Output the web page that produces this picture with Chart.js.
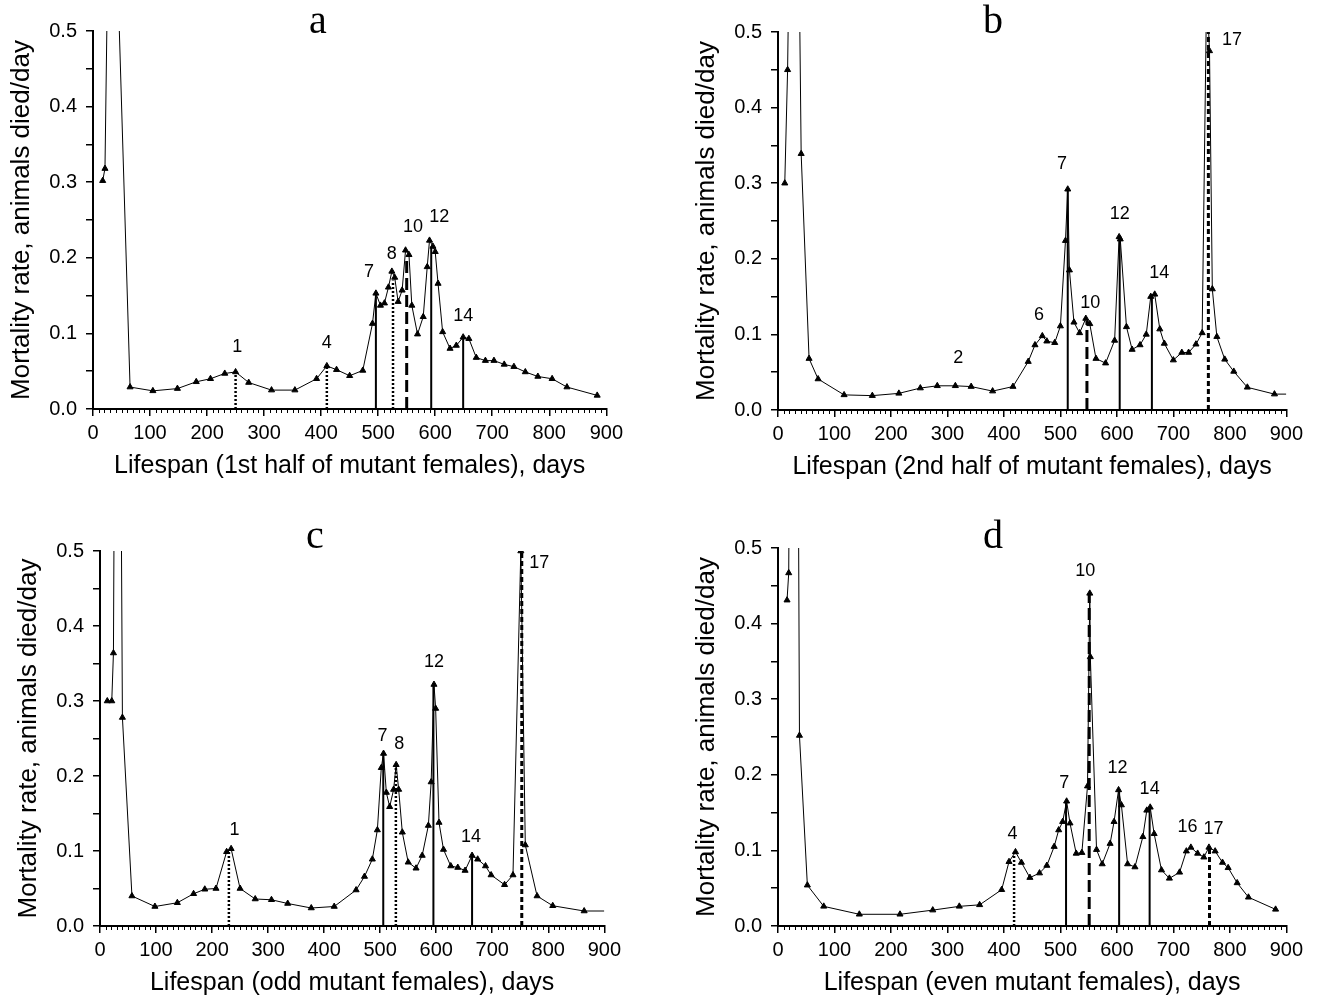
<!DOCTYPE html>
<html lang="en">
<head>
  <meta charset="UTF-8">
  <title>Mortality rate of mutant females</title>
  <script src="https://cdn.jsdelivr.net/npm/chart.js@4.4.0/dist/chart.umd.min.js"></script>
  <style>
    body { margin: 0; background: #fff; }
    #wrap { position: relative; width: 1320px; height: 998px; overflow: hidden; background: #fff; }
    #wrap canvas { position: absolute; }
    .letter {
      position: absolute;
      font-family: "Liberation Serif", "Times New Roman", serif;
      font-size: 40px;
      line-height: 1;
      transform: translate(-50%, -50%);
      color: #000;
    }
  </style>
</head>
<body>
  <div id="wrap"></div>
  <script>
    // ---- panel a: 1st half of mutant females
    const aDays = [17, 21, 31, 65, 105, 148, 181, 206, 231, 250, 273, 313, 354, 392, 410, 427, 450, 473, 490, 496,
                   504, 511, 518, 524, 529, 535, 542, 548, 554, 559, 569, 579, 586, 590, 596, 600, 605, 613, 626, 637,
                   649, 659, 672, 688, 703, 721, 738, 758, 780, 805, 831, 884];
    const aVals = [0.302, 0.318, 0.88, 0.029, 0.024, 0.027, 0.036, 0.040, 0.047, 0.049, 0.035, 0.025, 0.025, 0.040, 0.057, 0.052, 0.044, 0.051, 0.113, 0.153,
                   0.137, 0.140, 0.161, 0.182, 0.174, 0.142, 0.157, 0.210, 0.204, 0.137, 0.099, 0.122, 0.188, 0.223, 0.215, 0.208, 0.166, 0.102, 0.080, 0.084,
                   0.095, 0.093, 0.068, 0.064, 0.064, 0.059, 0.056, 0.049, 0.043, 0.040, 0.029, 0.018];
    const aLineDays = [250, 410, 496, 526, 550, 593, 649];
    const aLineTops = [0.049, 0.057, 0.153, 0.170, 0.201, 0.215, 0.095];
    const aLineKinds = ['dot', 'dot', 'solid', 'dot', 'dash', 'solid', 'solid'];
    const aLabText = ['1', '4', '7', '8', '10', '12', '14'];
    const aLabDays = [253, 410, 484, 524, 561, 607, 649];
    const aLabVals = [0.082, 0.0875, 0.181, 0.2045, 0.2405, 0.2537, 0.1227];

    // ---- panel b: 2nd half of mutant females
    const bDays = [12, 17, 25, 37, 41, 55, 71, 117, 167, 214, 252, 282, 314, 342, 380, 416, 443, 455, 468, 476,
                   490, 500, 509, 513, 516, 524, 534, 545, 552, 563, 580, 596, 604, 606, 617, 627, 641, 652, 660, 667,
                   676, 684, 700, 715, 727, 740, 751, 759, 764, 769, 777, 791, 807, 831, 879, 900];
    const bVals = [0.300, 0.450, 0.90, 0.62, 0.339, 0.068, 0.041, 0.020, 0.019, 0.022, 0.029, 0.032, 0.032, 0.031, 0.025, 0.031, 0.064, 0.086, 0.098, 0.091,
                   0.089, 0.111, 0.224, 0.292, 0.185, 0.116, 0.102, 0.121, 0.114, 0.068, 0.062, 0.092, 0.229, 0.226, 0.110, 0.080, 0.086, 0.100, 0.150, 0.153,
                   0.107, 0.088, 0.066, 0.076, 0.076, 0.087, 0.102, 0.56, 0.475, 0.160, 0.097, 0.067, 0.051, 0.030, 0.021, 0.021];
    const bLineDays = [513, 547, 605, 662, 762];
    const bLineTops = [0.292, 0.118, 0.229, 0.153, 0.5];
    const bLineKinds = ['solid', 'dash', 'solid', 'solid', 'short'];
    const bLabText = ['2', '6', '7', '10', '12', '14', '17'];
    const bLabDays = [319, 462, 503, 553, 605, 675, 804];
    const bLabVals = [0.069, 0.1255, 0.326, 0.142, 0.259, 0.181, 0.49];

    // ---- panel c: odd mutant females
    const cDays = [13, 21, 24, 31, 40, 57, 98, 138, 167, 187, 207, 226, 234, 250, 277, 306, 335, 377, 418, 457,
                   472, 486, 495, 502, 506, 511, 517, 524, 528.5, 533, 539.5, 550, 564, 575, 586, 591, 596, 599, 605, 613,
                   626, 638.5, 651.5, 664, 674, 688, 698, 722, 737, 751, 759, 780, 808, 864, 900];
    const cVals = [0.30, 0.30, 0.364, 1.5, 0.278, 0.040, 0.026, 0.031, 0.043, 0.049, 0.050, 0.099, 0.103, 0.050, 0.036, 0.035, 0.030, 0.024, 0.026, 0.048,
                   0.066, 0.089, 0.128, 0.211, 0.230, 0.178, 0.159, 0.182, 0.215, 0.182, 0.125, 0.085, 0.077, 0.094, 0.134, 0.192, 0.322, 0.290, 0.138, 0.102,
                   0.080, 0.078, 0.074, 0.094, 0.089, 0.080, 0.068, 0.055, 0.068, 0.50, 0.108, 0.040, 0.027, 0.020, 0.020];
    const cLineDays = [230, 505.5, 528, 595, 664, 752.7];
    const cLineTops = [0.10, 0.23, 0.215, 0.32, 0.094, 0.5];
    const cLineKinds = ['dot', 'solid', 'dot', 'solid', 'solid', 'short'];
    const cLabText = ['1', '7', '8', '12', '14', '17'];
    const cLabDays = [240, 504, 534, 596, 662, 784];
    const cLabVals = [0.1286, 0.2527, 0.242, 0.3515, 0.1188, 0.484];

    // ---- panel d: even mutant females
    const dDays = [16, 19, 28, 38, 52, 81, 144, 216, 274, 321, 357, 396, 409, 420.5, 431, 446, 463, 476, 489, 497,
                   504, 511, 517, 528, 538, 548, 552, 553, 564, 574, 588, 595, 603, 608, 619, 632, 646, 653, 659, 666,
                   679, 693, 711, 723, 731, 743, 754, 763, 774, 787, 797, 813, 833, 881];
    const dVals = [0.431, 0.467, 2.0, 0.252, 0.054, 0.026, 0.0155, 0.0155, 0.021, 0.026, 0.028, 0.048, 0.085, 0.098, 0.084, 0.064, 0.070, 0.080, 0.105, 0.127,
                   0.138, 0.165, 0.136, 0.096, 0.097, 0.185, 0.440, 0.356, 0.101, 0.082, 0.109, 0.138, 0.180, 0.160, 0.082, 0.078, 0.118, 0.153, 0.157, 0.122,
                   0.074, 0.063, 0.071, 0.099, 0.104, 0.096, 0.091, 0.104, 0.099, 0.084, 0.077, 0.057, 0.038, 0.022];
    const dLineDays = [418, 510, 551, 604, 658, 764];
    const dLineTops = [0.098, 0.165, 0.44, 0.18, 0.157, 0.104];
    const dLineKinds = ['dot', 'solid', 'dash', 'solid', 'solid', 'short'];
    const dLabText = ['4', '7', '10', '12', '14', '16', '17'];
    const dLabDays = [415, 507, 544, 601, 658, 725, 771];
    const dLabVals = [0.122, 0.189, 0.469, 0.209, 0.1815, 0.131, 0.128];

    const yTitle = 'Mortality rate, animals died/day';
    const xTitles = ['Lifespan (1st half of mutant females), days', 'Lifespan (2nd half of mutant females), days',
                     'Lifespan (odd mutant females), days', 'Lifespan (even mutant females), days'];

    // layout (page pixels of each plot area)
    const panels = [
      { letter: 'a', days: aDays, vals: aVals, lineDays: aLineDays, lineTops: aLineTops, lineKinds: aLineKinds,
        labText: aLabText, labDays: aLabDays, labVals: aLabVals, xTitle: xTitles[0], tail: false,
        box: { l: 93, r: 608, t: 30, b: 409 }, lx: 318, ly: 20 },
      { letter: 'b', days: bDays, vals: bVals, lineDays: bLineDays, lineTops: bLineTops, lineKinds: bLineKinds,
        labText: bLabText, labDays: bLabDays, labVals: bLabVals, xTitle: xTitles[1], tail: true,
        box: { l: 778, r: 1288, t: 31, b: 410 }, lx: 993, ly: 20 },
      { letter: 'c', days: cDays, vals: cVals, lineDays: cLineDays, lineTops: cLineTops, lineKinds: cLineKinds,
        labText: cLabText, labDays: cLabDays, labVals: cLabVals, xTitle: xTitles[2], tail: true,
        box: { l: 100, r: 606, t: 550, b: 926 }, lx: 315, ly: 535 },
      { letter: 'd', days: dDays, vals: dVals, lineDays: dLineDays, lineTops: dLineTops, lineKinds: dLineKinds,
        labText: dLabText, labDays: dLabDays, labVals: dLabVals, xTitle: xTitles[3], tail: false,
        box: { l: 778, r: 1288, t: 547, b: 926 }, lx: 993, ly: 535 }
    ];

    const AXIS_W = 100, AXIS_H = 72, PAD_T = 20, PAD_R = 20;
    const FONT = '"Liberation Sans", Arial, Helvetica, sans-serif';

    const lineStyles = {
      solid: { dash: [], width: 2 },
      dot:   { dash: [2, 2], width: 2.5 },
      dash:  { dash: [12, 5], width: 3 },
      short: { dash: [5, 3], width: 3 }
    };

    // small ticks every 10 days on the x axis
    const minorTicks = {
      id: 'minorTicks',
      afterDraw(chart) {
        const xs = chart.scales.x, ctx = chart.ctx;
        ctx.save();
        ctx.strokeStyle = '#000';
        ctx.lineWidth = 1;
        for (let d = 10; d < 900; d += 10) {
          if (d % 100 === 0) continue;
          const px = Math.round(xs.getPixelForValue(d)) + 0.5;
          ctx.beginPath();
          ctx.moveTo(px, xs.top);
          ctx.lineTo(px, xs.top + 4);
          ctx.stroke();
        }
        ctx.restore();
      }
    };

    // peak numbers
    const peakLabels = {
      id: 'peakLabels',
      afterDatasetsDraw(chart, args, opts) {
        const ctx = chart.ctx, xs = chart.scales.x, ys = chart.scales.y;
        ctx.save();
        ctx.fillStyle = '#000';
        ctx.font = '18px ' + FONT;
        ctx.textAlign = 'center';
        ctx.textBaseline = 'middle';
        opts.text.forEach((t, i) => {
          ctx.fillText(t, xs.getPixelForValue(opts.days[i]), ys.getPixelForValue(opts.vals[i]));
        });
        ctx.restore();
      }
    };

    const wrap = document.getElementById('wrap');

    panels.forEach(p => {
      const W = p.box.r - p.box.l + AXIS_W + PAD_R;
      const H = p.box.b - p.box.t + PAD_T + AXIS_H;
      const cv = document.createElement('canvas');
      cv.width = W; cv.height = H;
      cv.style.width = W + 'px'; cv.style.height = H + 'px';
      cv.style.left = (p.box.l - AXIS_W) + 'px';
      cv.style.top = (p.box.t - PAD_T) + 'px';
      wrap.appendChild(cv);

      const letter = document.createElement('div');
      letter.className = 'letter';
      letter.textContent = p.letter;
      letter.style.left = p.lx + 'px';
      letter.style.top = p.ly + 'px';
      wrap.appendChild(letter);

      const last = p.days.length - 1;
      const main = {
        data: p.days.map((d, i) => ({ x: d, y: p.vals[i] })),
        borderColor: '#000',
        borderWidth: 1,
        pointStyle: 'triangle',
        pointRadius: ctx => (p.tail && ctx.dataIndex === last) ? 0 : 3.5,
        pointBackgroundColor: '#000',
        pointBorderColor: '#000',
        pointBorderWidth: 1,
        tension: 0,
        order: 2
      };
      const drops = p.lineDays.map((d, i) => ({
        data: [{ x: d, y: 0 }, { x: d, y: p.lineTops[i] }],
        borderColor: '#000',
        borderWidth: lineStyles[p.lineKinds[i]].width,
        borderDash: lineStyles[p.lineKinds[i]].dash,
        pointRadius: 0,
        order: 1
      }));

      new Chart(cv, {
        type: 'line',
        data: { datasets: [main, ...drops] },
        plugins: [minorTicks, peakLabels],
        options: {
          responsive: false,
          animation: false,
          layout: { padding: { left: 0, right: PAD_R, top: PAD_T, bottom: 0 } },
          plugins: {
            legend: { display: false },
            tooltip: { enabled: false },
            peakLabels: { text: p.labText, days: p.labDays, vals: p.labVals }
          },
          scales: {
            x: {
              type: 'linear', min: 0, max: 900,
              ticks: { stepSize: 100, color: '#000', font: { family: FONT, size: 20 }, padding: 5, maxRotation: 0, autoSkip: false },
              grid: { drawOnChartArea: false, drawTicks: true, tickLength: 7, color: '#000', lineWidth: 1.5 },
              border: { display: true, color: '#000', width: 2 },
              title: { display: true, text: p.xTitle, color: '#000', font: { family: FONT, size: 25 }, padding: { top: 0, bottom: 0 } },
              afterFit: s => { s.height = AXIS_H; }
            },
            y: {
              type: 'linear', min: 0, max: 0.5,
              ticks: {
                stepSize: 0.05, color: '#000', font: { family: FONT, size: 20 }, padding: 9,
                callback: v => (Math.round(v * 100) % 10 === 0) ? v.toFixed(1) : ''
              },
              grid: { drawOnChartArea: false, drawTicks: true, tickLength: 7, color: '#000', lineWidth: 1.5 },
              border: { display: true, color: '#000', width: 2 },
              title: { display: true, text: yTitle, color: '#000', font: { family: FONT, size: 26 }, padding: { top: 13, bottom: 0 } },
              afterFit: s => { s.width = AXIS_W; }
            }
          }
        }
      });
    });
  </script>
</body>
</html>
